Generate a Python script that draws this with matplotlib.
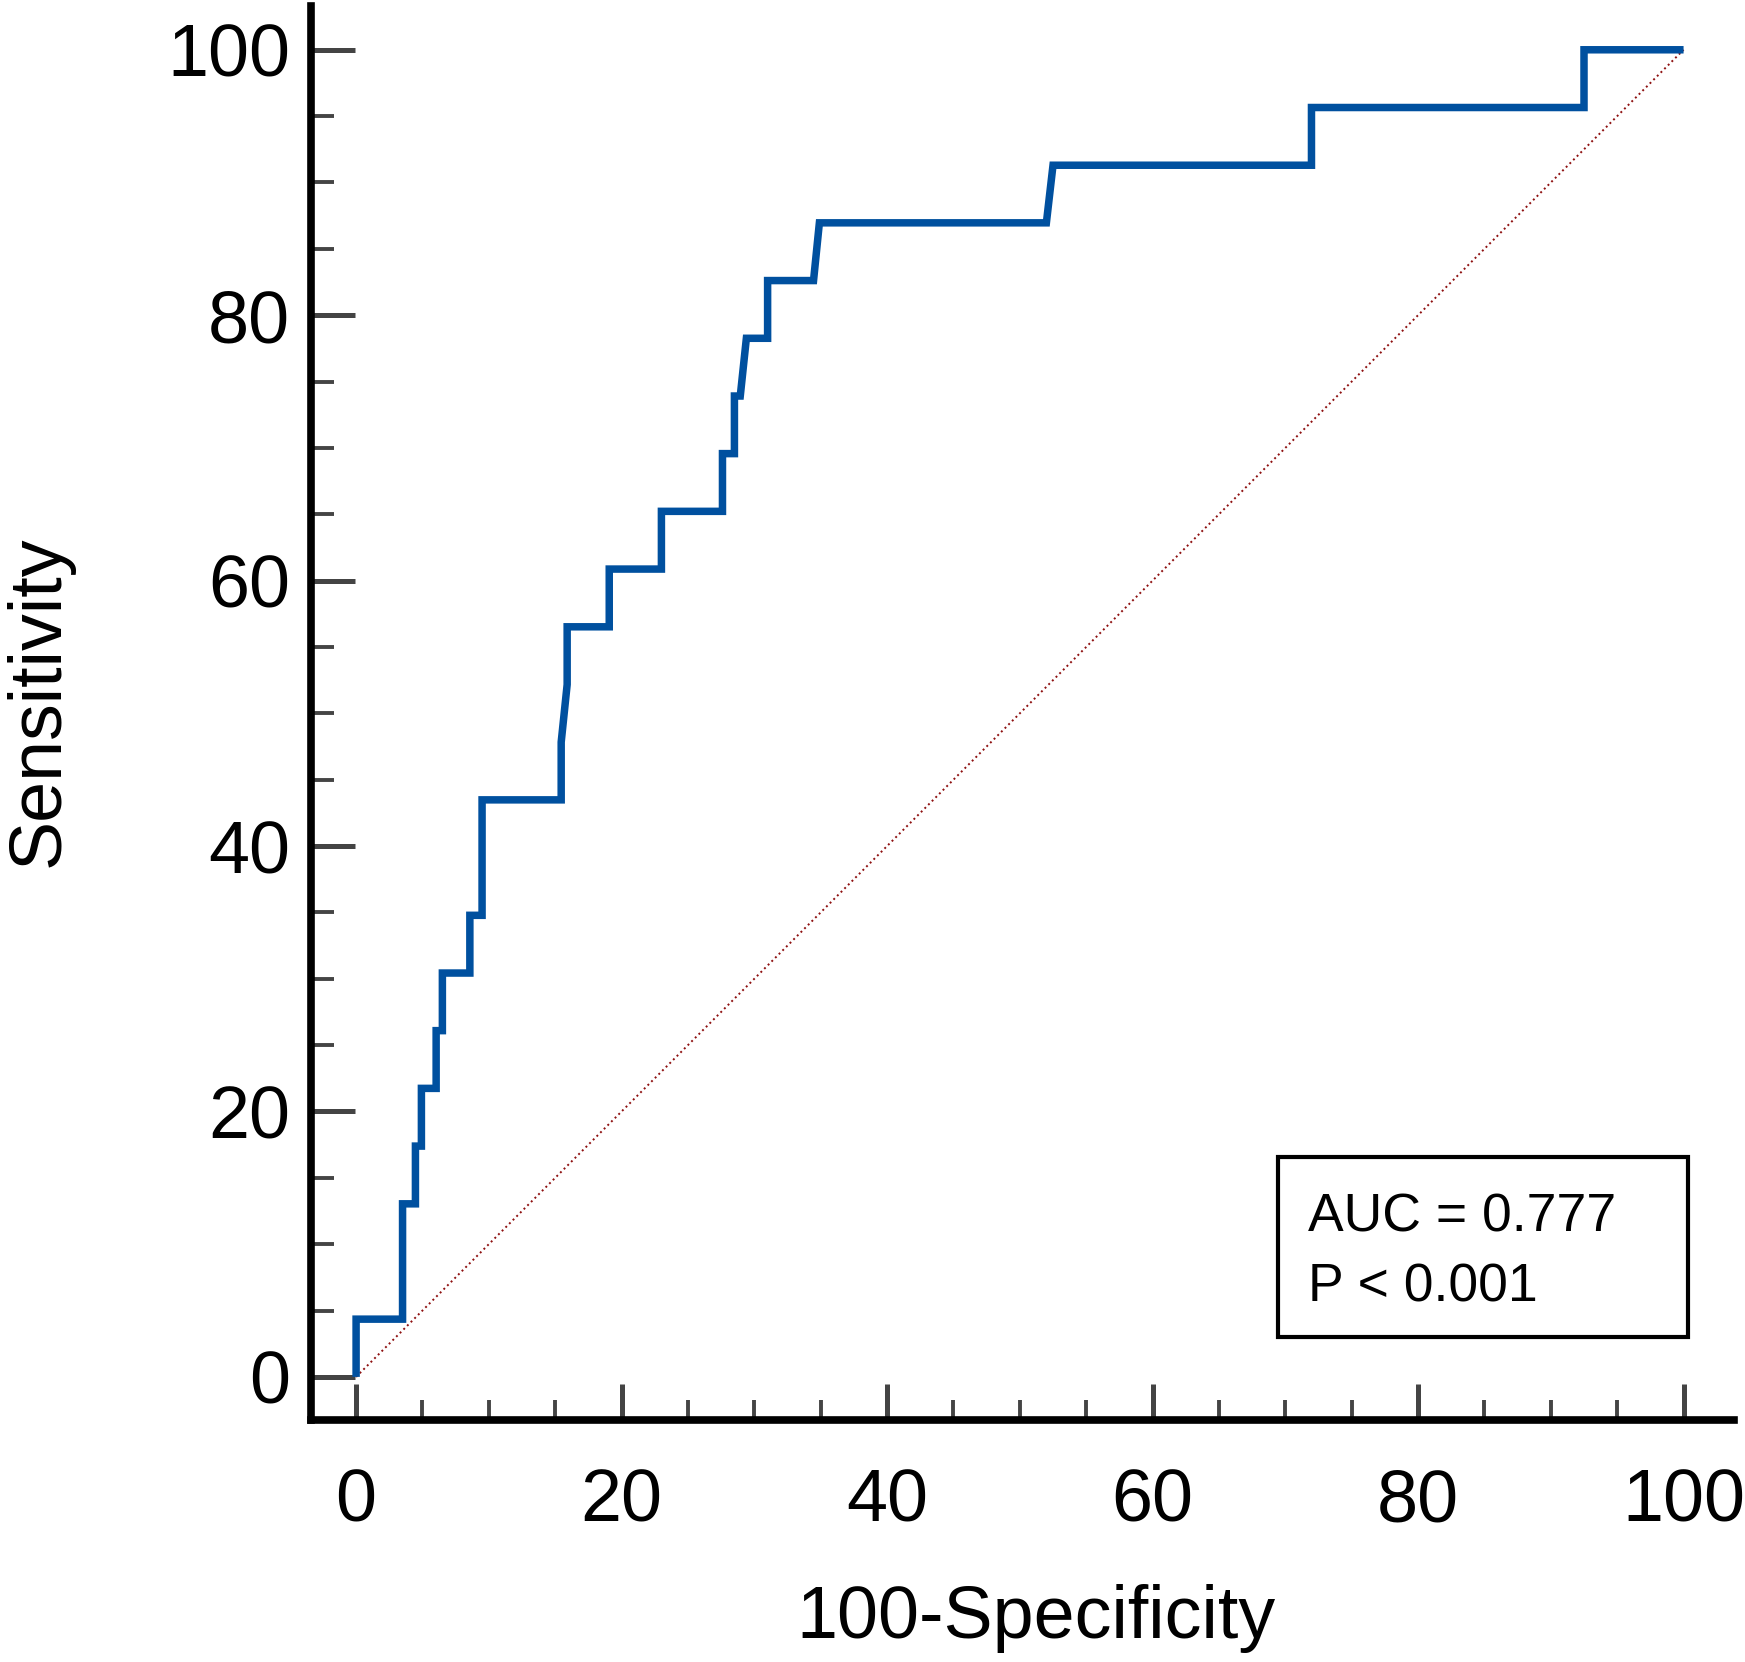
import matplotlib
matplotlib.use("Agg")
import matplotlib.pyplot as plt
from matplotlib.patches import Rectangle
from matplotlib.ticker import MultipleLocator
import numpy as np

plt.rcParams["font.family"] = ["Liberation Sans", "DejaVu Sans"]

# ROC curve vertices (100-Specificity, Sensitivity)
fpr_pts = [0, 0, 3.5, 3.5, 4.47, 4.47, 4.92, 4.92, 6.03, 6.03, 6.5, 6.5,
           8.57, 8.57, 9.49, 9.49, 15.45, 15.45, 15.9, 15.9, 19.07, 19.07,
           23.0, 23.0, 27.6, 27.6, 28.5, 28.5, 28.94, 29.4, 31.0, 31.0,
           34.46, 34.9, 52.0, 52.5, 71.97, 71.97, 92.5, 92.5, 100]
sens_pts = [0, 4.35, 4.35, 13.04, 13.04, 17.39, 17.39, 21.74, 21.74, 26.09,
            26.09, 30.43, 30.43, 34.78, 34.78, 43.48, 43.48, 47.83, 52.17,
            56.52, 56.52, 60.87, 60.87, 65.22, 65.22, 69.57, 69.57, 73.91,
            73.91, 78.26, 78.26, 82.61, 82.61, 86.96, 86.96, 91.30, 91.30,
            95.65, 95.65, 100, 100]
ref_line = [0, 100]

auc_text = "AUC = 0.777"
p_text = "P < 0.001"

fig = plt.figure(figsize=(17.45, 16.62), dpi=100)
ax = fig.add_axes([0.1782, 0.1456, 0.8155, 0.8508])

# diagonal reference
ax.plot(ref_line, ref_line, color="#8e1010", linestyle=":", linewidth=1.4)
# ROC curve
ax.plot(fpr_pts, sens_pts, color="#00509f", linewidth=5.4,
        solid_joinstyle="miter", solid_capstyle="butt")

ax.set_xlim(-3.4, 103.8)
ax.set_ylim(-3.25, 103.3)

for side in ["top", "right"]:
    ax.spines[side].set_visible(False)
for side in ["left", "bottom"]:
    ax.spines[side].set_linewidth(5.5)
    ax.spines[side].set_color("black")

ax.xaxis.set_major_locator(MultipleLocator(20))
ax.xaxis.set_minor_locator(MultipleLocator(5))
ax.yaxis.set_major_locator(MultipleLocator(20))
ax.yaxis.set_minor_locator(MultipleLocator(5))

ax.tick_params(axis="both", which="both", direction="in", color="#444444",
               labelcolor="black", labelsize=53)
ax.tick_params(axis="x", which="major", length=26, width=3.6, pad=34)
ax.tick_params(axis="x", which="minor", length=14.4, width=2.8)
ax.tick_params(axis="y", which="major", length=31.7, width=3.6, pad=15)
ax.tick_params(axis="y", which="minor", length=16.5, width=2.8)

ax.set_xlabel("100-Specificity", fontsize=53)
ax.set_ylabel("Sensitivity", fontsize=53)
ax.xaxis.set_label_coords(0.5095, -0.116)
ax.yaxis.set_label_coords(-0.167, 0.508)

# annotation box
ax.add_patch(Rectangle((0.6796, 0.0587), 0.2881, 0.1273, transform=ax.transAxes,
                       fill=False, edgecolor="black", linewidth=3.0, clip_on=False))
ax.text(0.7003, 0.133, auc_text, transform=ax.transAxes, fontsize=38.5,
        va="baseline", ha="left")
ax.text(0.7003, 0.0835, p_text, transform=ax.transAxes, fontsize=38.5,
        va="baseline", ha="left")

fig.savefig("out.png", dpi=100)
